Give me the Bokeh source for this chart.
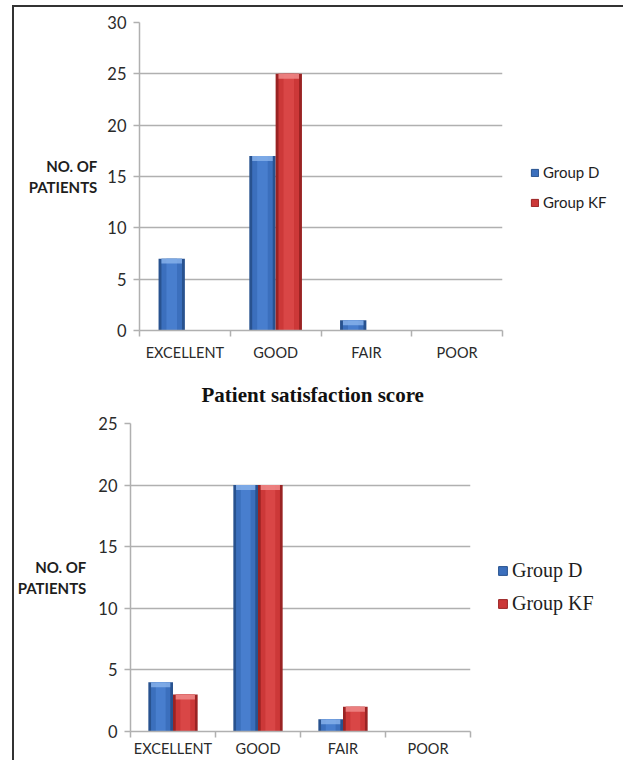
import numpy as np
from bokeh.plotting import figure
from bokeh.models import (ColumnDataSource, Range1d, FixedTicker, Legend, LegendItem,
                          Title, Div, Spacer)
from bokeh.layouts import column, row
from bokeh.embed import file_html
from bokeh.resources import INLINE

# ---- data -------------------------------------------------------------
categories = ["EXCELLENT", "GOOD", "FAIR", "POOR"]

top_group_d = [7, 17, 1, 0]
top_group_kf = [0, 25, 0, 0]
top_y_ticks = [0, 5, 10, 15, 20, 25, 30]

bottom_group_d = [4, 20, 1, 0]
bottom_group_kf = [3, 20, 2, 0]
bottom_y_ticks = [0, 5, 10, 15, 20, 25]

series_names = ["Group D", "Group KF"]
bottom_title = "Patient satisfaction score"
y_label = "NO. OF\nPATIENTS"

# ---- styles -----------------------------------------------------------
SANS = "Lato"
SERIF = "Liberation Serif"
GRID = "#b0b0b0"
TEXT = "#2a2a2a"
BAR_W = 0.29
CAP_PX = 5

PALETTE = {
    "Group D": dict(edge="#28528f", mid="#3b6fbd", hi="#4c82d2", cap="#86b0ea"),
    "Group KF": dict(edge="#9a2323", mid="#cc3838", hi="#dc4a4a", cap="#ef8a8a"),
}


def make_chart(vals_d, vals_kf, y_ticks, width, height, borders, label_standoff,
               cat_standoff):
    top_b, right_b, bottom_b, left_b = borders
    ymax = y_ticks[-1]
    p = figure(width=width, height=height, output_backend="svg", toolbar_location=None,
               x_range=Range1d(0, len(categories)), y_range=Range1d(0, ymax),
               min_border_top=top_b, min_border_right=right_b,
               min_border_bottom=bottom_b, min_border_left=left_b,
               background_fill_color="white", border_fill_color="white")
    p.outline_line_color = None
    frame_h = height - top_b - bottom_b
    cap = CAP_PX * ymax / frame_h

    centers = np.arange(len(categories)) + 0.5
    sources = {}
    for name, vals, shift in ((series_names[0], vals_d, -BAR_W / 2),
                              (series_names[1], vals_kf, BAR_W / 2)):
        v = np.array(vals, dtype=float)
        col = PALETTE[name]
        src = ColumnDataSource(dict(
            x=centers + shift, top=v,
            cap_bottom=np.where(v > 0, np.maximum(v - cap, 0), 0)))
        sources[name] = src
        # layered fills give the bars a rounded, bevelled look
        p.vbar(x="x", top="top", bottom=0, width=BAR_W, source=src,
               fill_color=col["edge"], line_color=None)
        p.vbar(x="x", top="top", bottom=0, width=BAR_W * 0.78, source=src,
               fill_color=col["mid"], line_color=None)
        p.vbar(x="x", top="top", bottom=0, width=BAR_W * 0.4, source=src,
               fill_color=col["hi"], line_color=None, fill_alpha=0.8)
        p.vbar(x="x", top="top", bottom="cap_bottom", width=BAR_W * 0.78, source=src,
               fill_color=col["cap"], line_color=None, fill_alpha=0.85)

    # y axis
    p.yaxis.ticker = FixedTicker(ticks=y_ticks)
    p.yaxis.major_tick_out = 6
    p.yaxis.major_tick_in = 0
    p.yaxis.minor_tick_line_color = None
    p.yaxis.axis_line_color = GRID
    p.yaxis.major_tick_line_color = GRID
    p.yaxis.axis_line_width = 1.5
    p.yaxis.major_tick_line_width = 1.5
    p.yaxis.major_label_text_font = SANS
    p.yaxis.major_label_text_font_size = "16.5px"
    p.yaxis.major_label_text_color = TEXT
    p.yaxis.major_label_standoff = 7
    p.yaxis.axis_label = y_label
    p.yaxis.axis_label_orientation = "horizontal"
    p.yaxis.axis_label_text_font = SANS
    p.yaxis.axis_label_text_font_style = "bold"
    p.yaxis.axis_label_text_font_size = "15px"
    p.yaxis.axis_label_text_color = "#1e1e1e"
    p.yaxis.axis_label_standoff = label_standoff
    p.yaxis.axis_label_text_align = "center"

    # x axis: labels at category centres, tick marks on category boundaries
    p.xaxis.ticker = FixedTicker(ticks=list(centers),
                                 minor_ticks=list(range(len(categories) + 1)))
    p.xaxis.major_label_overrides = {float(c): lab for c, lab in zip(centers, categories)}
    p.xaxis.major_tick_line_color = None
    p.xaxis.major_tick_out = 6
    p.xaxis.minor_tick_out = 6
    p.xaxis.minor_tick_in = 0
    p.xaxis.minor_tick_line_color = GRID
    p.xaxis.minor_tick_line_width = 1.5
    p.xaxis.axis_line_color = GRID
    p.xaxis.axis_line_width = 1.5
    p.xaxis.major_label_text_font = SANS
    p.xaxis.major_label_text_font_size = "14.5px"
    p.xaxis.major_label_text_color = TEXT
    p.xaxis.major_label_standoff = cat_standoff

    p.xgrid.grid_line_color = None
    p.ygrid.ticker = FixedTicker(ticks=y_ticks)
    p.ygrid.grid_line_color = GRID
    p.ygrid.grid_line_width = 1.5
    return p, sources


def make_legend_panel(sources, width, height, top_b, bottom_b, font, size, glyph,
                      loc, pitch):
    """Narrow canvas beside a chart that carries its series legend.

    The series renderers here only key the legend: the panel's x range lies
    left of every bar, so no bars are drawn on this canvas.
    """
    lp = figure(width=width, height=height, output_backend="svg", toolbar_location=None,
                x_range=Range1d(-2, -1), y_range=Range1d(0, 1),
                min_border_top=top_b, min_border_bottom=bottom_b,
                min_border_left=0, min_border_right=0,
                background_fill_color="white", border_fill_color="white")
    lp.axis.visible = False
    lp.grid.visible = False
    lp.outline_line_color = None
    items = []
    for name in series_names:
        r = lp.vbar(x="x", top="top", width=BAR_W, source=sources[name],
                    fill_color=PALETTE[name]["mid"], line_color=PALETTE[name]["edge"],
                    line_width=1)
        items.append(LegendItem(label=name, renderers=[r]))
    legend = Legend(items=items, location=loc, orientation="vertical",
                    glyph_width=glyph, glyph_height=glyph,
                    label_height=pitch - 10, spacing=10, padding=0, margin=0,
                    label_standoff=4, border_line_color=None,
                    background_fill_alpha=0,
                    label_text_font=font, label_text_font_size=size,
                    label_text_color="#1e1e1e")
    lp.add_layout(legend, "center")
    return lp


p_top, top_sources = make_chart(top_group_d, top_group_kf, top_y_ticks, 500, 356,
                                (15, 12, 32, 125), 7, 7)
leg_top = make_legend_panel(top_sources, 109, 356, 15, 32, SANS, "15px", 9,
                            (16, 118), 30)

p_bottom, bottom_sources = make_chart(bottom_group_d, bottom_group_kf, bottom_y_ticks,
                                      468, 397, (60, 12, 29, 116), 9, 2)
p_bottom.add_layout(Title(text=bottom_title, align="left", offset=71,
                          text_font=SERIF, text_font_size="21px",
                          text_font_style="bold", text_color="#111111",
                          standoff=33), "above")
leg_bottom = make_legend_panel(bottom_sources, 141, 397, 60, 29, SERIF, "20px", 11,
                               (15, 116), 32)

# page frame: thin dark rule along the left and top edges
left_rule = Div(width=2, height=755, margin=0,
                styles={"background-color": "#333333"})
top_rule = Div(width=609, height=2, margin=0,
               styles={"background-color": "#333333"})

# each chart sits in its own row so the two frames are laid out independently
charts = column(top_rule,
                row(p_top, leg_top, margin=0, spacing=0),
                row(p_bottom, leg_bottom, margin=0, spacing=0),
                spacing=0, margin=0)

layout = column(
    Spacer(width=623, height=5, margin=0),
    row(Spacer(width=12, height=755, margin=0), left_rule, charts,
        spacing=0, margin=0),
    spacing=0, margin=0)

open("out.html", "w").write(file_html(layout, INLINE))
